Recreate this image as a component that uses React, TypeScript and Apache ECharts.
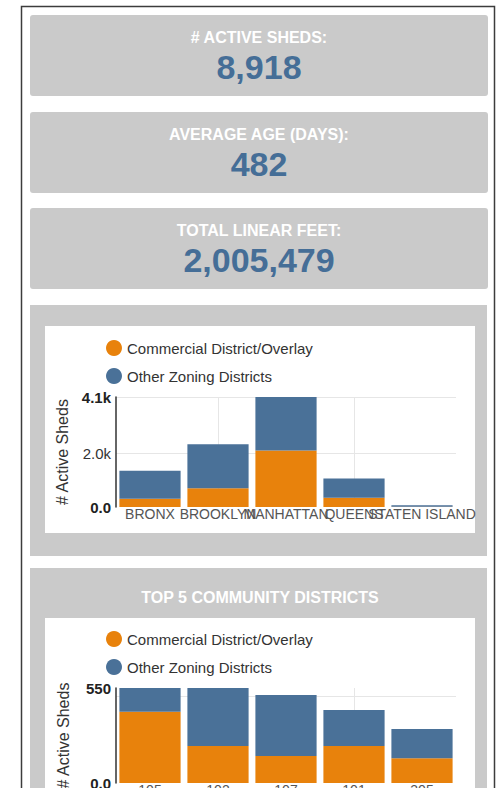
import React, { useEffect, useRef } from "react";
import * as echarts from "echarts";

const FONT = "'Liberation Sans', Arial, sans-serif";
const GRAY = "#cacaca";
const ORANGE = "#e8820c";
const BLUE = "#4a7198";
const NUM_BLUE = "#456e97";

const kpiTitles = ["# ACTIVE SHEDS:", "AVERAGE AGE (DAYS):", "TOTAL LINEAR FEET:"];
const kpiValues = ["8,918", "482", "2,005,479"];

const seriesNames = ["Commercial District/Overlay", "Other Zoning Districts"];

const boroughs = ["BRONX", "BROOKLYN", "MANHATTAN", "QUEENS", "STATEN ISLAND"];
const boroCommercial = [305, 700, 2105, 343, 5];
const boroOther = [1045, 1640, 1995, 717, 63];
const boroLabelTicks = [0, 2000, 4100];
const boroGridTicks = [2000, 4100];

const districts = ["105", "102", "107", "101", "305"];
const distCommercial = [413, 214, 156, 214, 143];
const distOther = [137, 336, 354, 209, 170];
const distLabelTicks = [0, 550];
const distGridTicks = [500];

const vGridTicks = [1, 3];

const yFmt = (v: number) => (v === 0 ? "0.0" : v >= 1000 ? (v / 1000).toFixed(1) + "k" : String(v));

function yAxis(gridIndex: number, max: number, labelTicks: number[], gridTicks: number[]) {
  return {
    type: "value",
    gridIndex,
    min: 0,
    max,
    name: "# Active Sheds",
    nameLocation: "middle",
    nameGap: 45,
    nameTextStyle: { fontSize: 16, color: "#333", fontFamily: FONT },
    axisLine: { show: true, onZero: false, lineStyle: { color: "#333", width: 1.5 } },
    axisTick: { show: false, customValues: gridTicks },
    splitLine: { show: true, lineStyle: { color: "#e6e6e6", width: 1 } },
    axisLabel: {
      customValues: labelTicks,
      margin: 5,
      formatter: (v: number) => (v === 0 || v === max ? `{b|${yFmt(v)}}` : `{n|${yFmt(v)}}`),
      rich: {
        b: { fontWeight: "bold", fontSize: 15, color: "#222", fontFamily: FONT },
        n: { fontSize: 15, color: "#333", fontFamily: FONT },
      },
    },
  };
}

function catAxis(gridIndex: number, data: string[]) {
  return {
    type: "category",
    gridIndex,
    data,
    axisLine: { show: false, onZero: false },
    axisTick: { show: false },
    splitLine: { show: false },
    axisLabel: { interval: 0, hideOverlap: false, fontSize: 14, color: "#555", margin: 0, fontFamily: FONT },
  };
}

function vGridAxis(gridIndex: number) {
  return {
    type: "value",
    gridIndex,
    position: "top",
    min: -0.5,
    max: 4.5,
    axisLine: { show: false, onZero: false },
    axisLabel: { show: false },
    axisTick: { show: false, customValues: vGridTicks },
    splitLine: { show: true, lineStyle: { color: "#e6e6e6", width: 1 } },
  };
}

function legend(top: number) {
  return {
    orient: "vertical",
    left: 106,
    top,
    padding: 0,
    icon: "circle",
    itemWidth: 16,
    itemHeight: 16,
    itemGap: 12,
    data: seriesNames,
    textStyle: { fontSize: 15, color: "#333", fontFamily: FONT },
  };
}

function buildGraphic() {
  const g: any[] = [];
  g.push({
    type: "rect",
    shape: { x: 21.5, y: 6.5, width: 473, height: 820 },
    style: { fill: "#fff", stroke: "#3c3c3c", lineWidth: 1.5 },
    z: -30,
  });
  const cardTops = [15, 112, 208];
  cardTops.forEach((top, i) => {
    g.push({
      type: "rect",
      shape: { x: 30, y: top, width: 458, height: 81, r: 3 },
      style: { fill: GRAY },
      z: -20,
    });
    g.push({
      type: "text",
      x: 259,
      y: top + 22,
      style: {
        text: kpiTitles[i],
        fill: "#fff",
        font: `bold 16px ${FONT}`,
        textAlign: "center",
        textVerticalAlign: "middle",
        align: "center",
        verticalAlign: "middle",
      },
      z: -5,
    });
    g.push({
      type: "text",
      x: 259,
      y: top + 52,
      style: {
        text: kpiValues[i],
        fill: NUM_BLUE,
        font: `bold 34px ${FONT}`,
        textAlign: "center",
        textVerticalAlign: "middle",
        align: "center",
        verticalAlign: "middle",
      },
      z: -5,
    });
  });
  // chart panel 1
  g.push({ type: "rect", shape: { x: 30, y: 305, width: 457, height: 251 }, style: { fill: GRAY }, z: -20 });
  g.push({ type: "rect", shape: { x: 45, y: 326, width: 430, height: 207 }, style: { fill: "#fff" }, z: -10 });
  // chart panel 2
  g.push({ type: "rect", shape: { x: 30, y: 568, width: 457, height: 240 }, style: { fill: GRAY }, z: -20 });
  g.push({
    type: "text",
    x: 260,
    y: 597,
    style: {
      text: "TOP 5 COMMUNITY DISTRICTS",
      fill: "#fff",
      font: `bold 16px ${FONT}`,
      textAlign: "center",
      textVerticalAlign: "middle",
      align: "center",
      verticalAlign: "middle",
    },
    z: -5,
  });
  g.push({ type: "rect", shape: { x: 45, y: 618, width: 430, height: 200 }, style: { fill: "#fff" }, z: -10 });
  return g;
}

export default function App() {
  const ref = useRef<HTMLDivElement>(null);
  useEffect(() => {
    const chart = echarts.init(ref.current!, null, { renderer: "svg" });
    const option: any = {
      animation: false,
      backgroundColor: "#fff",
      textStyle: { fontFamily: FONT },
      graphic: buildGraphic(),
      legend: [legend(340), legend(631)],
      grid: [
        { left: 116, width: 340, top: 397, height: 110, containLabel: false, outerBoundsMode: "none" },
        { left: 116, width: 340, top: 688, height: 95, containLabel: false, outerBoundsMode: "none" },
      ],
      xAxis: [catAxis(0, boroughs), catAxis(1, districts), vGridAxis(0), vGridAxis(1)],
      yAxis: [yAxis(0, 4100, boroLabelTicks, boroGridTicks), yAxis(1, 550, distLabelTicks, distGridTicks)],
      series: [
        {
          name: seriesNames[0], type: "bar", stack: "a", xAxisIndex: 0, yAxisIndex: 0,
          data: boroCommercial, barCategoryGap: "10%", itemStyle: { color: ORANGE }, z: 5,
        },
        {
          name: seriesNames[1], type: "bar", stack: "a", xAxisIndex: 0, yAxisIndex: 0,
          data: boroOther, barCategoryGap: "10%", itemStyle: { color: BLUE }, z: 5,
        },
        {
          name: seriesNames[0], type: "bar", stack: "b", xAxisIndex: 1, yAxisIndex: 1,
          data: distCommercial, barCategoryGap: "10%", itemStyle: { color: ORANGE }, z: 5,
        },
        {
          name: seriesNames[1], type: "bar", stack: "b", xAxisIndex: 1, yAxisIndex: 1,
          data: distOther, barCategoryGap: "10%", itemStyle: { color: BLUE }, z: 5,
        },
      ],
    };
    chart.setOption(option);
    return () => chart.dispose();
  }, []);
  return <div ref={ref} style={{ position: "fixed", left: 0, top: 0, width: 503, height: 788 }} />;
}
